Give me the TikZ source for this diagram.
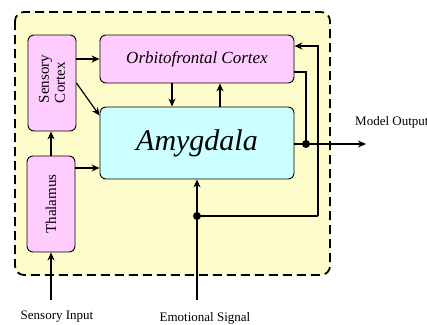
\documentclass[tikz,border=0pt]{standalone}
\usepackage{fontspec}
\setmainfont{Liberation Serif}
\usetikzlibrary{arrows.meta,calc}
\definecolor{panel}{HTML}{FFFCCC}
\definecolor{pinkbox}{HTML}{FFCCFF}
\definecolor{cyanbox}{HTML}{CCFFFF}
\tikzset{
  region/.style={draw=black, line width=0.9pt, rounded corners=6pt, align=center, inner sep=0pt},
  pinkregion/.style={region, fill=pinkbox},
  wire/.style={line width=1.2pt},
  flow/.style={wire, -{Stealth[length=8pt,width=7pt]}},
  dot/.style={circle, fill=black, inner sep=0pt, minimum size=8pt},
  lbl/.style={font=\fontsize{13}{15}\selectfont, inner sep=0pt}
}
\begin{document}
\begin{tikzpicture}[x=1pt,y=-1pt]
\useasboundingbox (0,0) rectangle (427,324);
% enclosing panel
\draw[line width=1.8pt, dash pattern=on 9pt off 5pt, fill=panel, rounded corners=9pt] (15,12) rectangle (330,275);

% regions
\node[pinkregion, minimum width=48pt, minimum height=96pt] (sc) at (52,83)
  {\rotatebox{90}{\parbox{4em}{\centering\fontsize{15}{16}\selectfont Sensory\\Cortex}}};
\node[pinkregion, minimum width=48pt, minimum height=96pt] (th) at (51,204)
  {\rotatebox{90}{\fontsize{15}{16}\selectfont Thalamus}};
\node[pinkregion, minimum width=194pt, minimum height=48pt] (ofc) at (197,59)
  {\fontsize{17}{18}\selectfont\itshape Orbitofrontal Cortex};
\node[region, fill=cyanbox, minimum width=194pt, minimum height=72pt] (amy) at (197,143)
  {\fontsize{30}{32}\selectfont\itshape Amygdala};

% junctions and free ends
\coordinate (thout) at ([yshift=36pt]th.east);
\coordinate (outj) at (306,144);
\coordinate (outend) at (366,144);
\coordinate (emoj) at (197,216);
\coordinate (fbr) at (318,216);
\coordinate (emoin) at (197,300);
\coordinate (sensin) at (51,300);

% sensory pathway
\draw[flow] (sensin) -- (th.south);
\draw[flow] (th.north) -- (th.north |- sc.south);
\draw[flow] (thout) -- (amy.west |- thout);
\draw[flow] (sc.east |- ofc.west) -- (ofc.west);
\draw[flow] (sc.east) -- ([yshift=-9pt]amy.north west);

% cortex <-> amygdala
\draw[flow] ([xshift=-25pt]ofc.south) -- ([xshift=-25pt]amy.north);
\draw[flow] ([xshift=23pt]amy.north) -- ([xshift=23pt]ofc.south);

% output
\draw[wire] (amy.east |- outj) -- (outj);
\draw[flow] (outj) -- (outend);
\draw[wire] ([yshift=-13pt]ofc.east) -| (outj);
\node[dot] (od) at (outj) {};
\node[lbl, anchor=west] (mo) at (355,122) {Model Output};

% emotional signal and feedback
\draw[flow] (emoin) -- (amy.south);
\draw[wire] (emoj) -- (fbr);
\draw[flow] (fbr) |- ([yshift=13pt]ofc.east);
\node[dot] (ed) at (emoj) {};

\node[lbl] (si) at (57,317) {Sensory Input};
\node[lbl] (es) at (205,318) {Emotional Signal};
\end{tikzpicture}
\end{document}
